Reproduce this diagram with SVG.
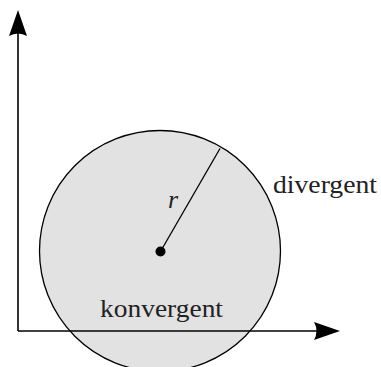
<svg xmlns="http://www.w3.org/2000/svg" width="381" height="367" viewBox="0 0 381 367">
<style>
.ax{stroke:#000;stroke-width:1.6;fill:none}
.t{font-family:"Liberation Serif","Times New Roman",Times,serif;font-size:26px;fill:#222}
</style>
<rect width="381" height="367" fill="#fff"/>
<g id="region">
<circle cx="160" cy="251" r="120.5" fill="#e2e2e2" stroke="#000" stroke-width="1.3"/>
</g>
<g id="connectors">
<path class="ax" d="M18,331 V30"/>
<path class="ax" d="M18,331 H320"/>
<path d="M18,10 L27,36 Q18,31 9,36 Z" fill="#000"/>
<path d="M340,331 L314,340 Q319,331 314,322 Z" fill="#000"/>
<path d="M160.5,251.5 L220,148.5" stroke="#000" stroke-width="1.3"/>
</g>
<g id="center"><circle cx="160.5" cy="251.5" r="5" fill="#000"/></g>
<g id="labels">
<text class="t" x="168" y="208" font-style="italic">r</text>
<text class="t" x="273" y="193" textLength="104" lengthAdjust="spacingAndGlyphs">divergent</text>
<text class="t" x="100" y="317" textLength="123" lengthAdjust="spacingAndGlyphs">konvergent</text>
</g>
</svg>
